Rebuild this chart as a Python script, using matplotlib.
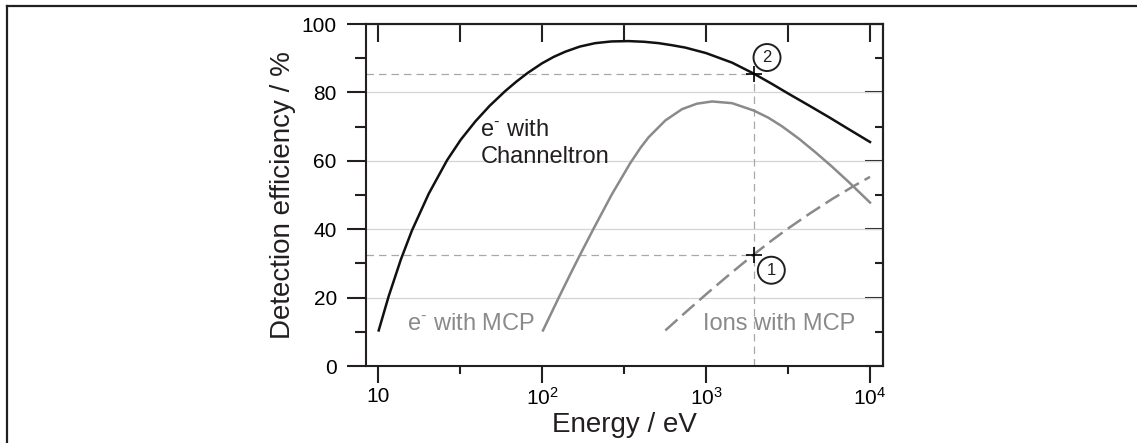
import numpy as np
import matplotlib
matplotlib.use("Agg")
import matplotlib.pyplot as plt
from matplotlib.ticker import FixedLocator, FixedFormatter, NullFormatter
from matplotlib.lines import Line2D

plt.rcParams['font.family'] = ['Liberation Sans', 'DejaVu Sans']
plt.rcParams['mathtext.fontset'] = 'custom'
plt.rcParams['mathtext.rm'] = 'Liberation Sans'

#%% Daten
# e- mit Channeltron
energy_ch = [10.1, 11.6, 13.8, 16.1, 20.4, 26.4, 32, 39.2, 48, 59.7, 70, 81.8,
             100, 118, 138.7, 170, 211, 265, 337, 420, 514, 620, 748, 1000,
             1442, 1954, 2500, 3162, 4200, 5598, 7500, 10000]
eff_ch = [10.4, 20.3, 31.2, 39.6, 50.4, 60.2, 66.2, 71.5, 76.1, 80.4, 83.2, 85.7,
          88.5, 90.4, 91.9, 93.4, 94.4, 94.9, 95.0, 94.8, 94.4, 93.8, 93.1, 91.5,
          88.7, 85.5, 82.6, 79.7, 76.3, 72.8, 69.1, 65.5]

# e- mit MCP
energy_mcp = [101.4, 126.5, 150, 171, 205, 266, 346, 400, 447, 565, 714, 880,
              1089, 1442, 1954, 2400, 2904, 3700, 4645, 5800, 7413, 10000]
eff_mcp = [10.4, 20.0, 27.2, 32.6, 39.9, 50.1, 59.4, 63.9, 66.9, 71.8, 75.1, 76.7,
           77.35, 76.85, 74.7, 72.6, 70.1, 66.4, 62.5, 58.5, 53.8, 47.8]

# Ionen mit MCP
energy_ion = [565, 750, 1014, 1400, 1954, 2500, 3119, 4300, 5865, 7943, 10000]
eff_ion = [10.4, 15.7, 21.2, 26.9, 32.6, 36.6, 40.0, 44.6, 48.8, 52.6, 55.3]

# Markierte Punkte
mark_energy = 1960
mark_eff = [32.5, 85.5]
mark_labels = ['1', '2']
circle_energy = [2501, 2355]
circle_eff = [28.0, 90.2]

xlim = (8.45, 12000)
ylim = (0, 100)
xmajor = [10, 100, 1000, 10000]
xmajor_labels = ['10', r'$\mathregular{10^2}$', r'$\mathregular{10^3}$', r'$\mathregular{10^4}$']
xhalf = [31.62, 316.2, 3162]

dark = '#231f20'
gray = '#8a8a8a'

#%% Plot
fig = plt.figure(figsize=(11.37, 4.43), dpi=100)
ax = fig.add_axes([366/1137, 1-366/443, (883-366)/1137, (366-24)/443])

# Rahmen aussen
fig.add_artist(Line2D([7/1137, 1.0], [1-6/443, 1-6/443], color=dark, lw=1.6))
fig.add_artist(Line2D([7/1137, 7/1137], [0.0, 1-6/443], color=dark, lw=1.6))

ax.set_xscale('log')
ax.set_xlim(xlim)
ax.set_ylim(ylim)

ax.set_yticks(np.arange(0, 101, 20))
ax.set_yticks(np.arange(10, 100, 20), minor=True)
ax.xaxis.set_major_locator(FixedLocator(xmajor))
ax.xaxis.set_major_formatter(FixedFormatter(xmajor_labels))
ax.xaxis.set_minor_locator(FixedLocator(xhalf))
ax.xaxis.set_minor_formatter(NullFormatter())

ax.grid(axis='y', which='major', color='#d4d4d4', lw=0.9)
ax.set_axisbelow(True)

for s in ax.spines.values():
    s.set_linewidth(1.5)
    s.set_color(dark)

ax.tick_params(axis='x', which='major', direction='out', length=12, width=1.5,
               color=dark, labelsize=15, pad=3)
ax.tick_params(axis='x', which='minor', direction='out', length=6, width=1.5, color=dark)
ax.tick_params(axis='y', which='major', direction='out', length=14, width=1.5,
               color=dark, labelsize=15, pad=7)
ax.tick_params(axis='y', which='minor', direction='out', length=8, width=1.5, color=dark)

# Ticks oben / rechts nach innen
top = ax.secondary_xaxis('top')
top.set_xticks(xmajor + xhalf)
top.tick_params(direction='in', length=13, width=1.5, color=dark, labeltop=False)
top.xaxis.set_minor_locator(FixedLocator([]))
top.spines['top'].set_linewidth(1.5)
top.spines['top'].set_color(dark)

right = ax.secondary_yaxis('right')
right.set_yticks(np.arange(0, 101, 20))
right.set_yticks(np.arange(10, 100, 20), minor=True)
right.tick_params(which='major', direction='in', length=13, width=1.5, color=dark, labelright=False)
right.tick_params(which='minor', direction='in', length=6, width=1.5, color=dark)
right.spines['right'].set_linewidth(1.5)
right.spines['right'].set_color(dark)

# Hilfslinien
ax.hlines(mark_eff, xlim[0], mark_energy, colors='#a8a8a8', lw=0.9, linestyles=(0, (6, 4)))
ax.vlines(mark_energy, 0, max(mark_eff), colors='#a8a8a8', lw=0.9, linestyles=(0, (6, 4)))

# Kurven
ax.plot(energy_ch, eff_ch, color='#111111', lw=1.8, solid_joinstyle='round')
ax.plot(energy_mcp, eff_mcp, color=gray, lw=1.8, solid_joinstyle='round')
ax.plot(energy_ion, eff_ion, color=gray, lw=1.8, dashes=(6.5, 2.6))

ax.plot([mark_energy]*2, mark_eff, '+', color='black', ms=12, mew=1.2)
for x, y, t in zip(circle_energy, circle_eff, mark_labels):
    ax.text(x, y, t, ha='center', va='center', fontsize=12, color=dark,
            bbox=dict(boxstyle='circle,pad=0.36', fc='none', ec=dark, lw=1.4))

# Beschriftungen
ax.text(42.1, 67.3, r'e$^{\text{-}}$ with', fontsize=17, color=dark, va='baseline')
ax.text(42.1, 59.5, 'Channeltron', fontsize=17, color=dark, va='baseline')
ax.text(15.0, 10.4, r'e$^{\text{-}}$ with MCP', fontsize=17, color=gray, va='baseline')
ax.text(955, 10.4, 'Ions with MCP', fontsize=17, color=gray, va='baseline')

ax.set_xlabel('Energy / eV', fontsize=20, color=dark, labelpad=2)
ax.set_ylabel('Detection efficiency / %', fontsize=20, color=dark, labelpad=4)

fig.savefig('out.png', dpi=100)
